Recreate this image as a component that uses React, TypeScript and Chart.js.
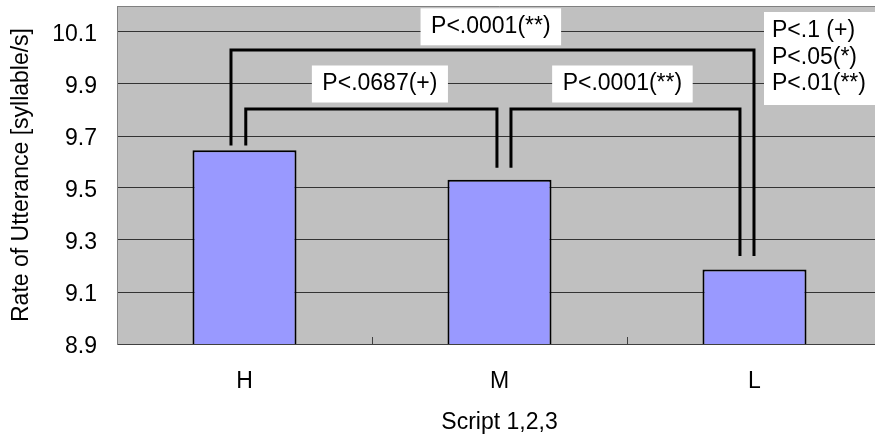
import React, { useEffect, useRef } from "react";
import { Chart, registerables } from "chart.js";

Chart.register(...registerables);

const FONT = '"Liberation Sans", Arial, sans-serif';

const categories = ["H", "M", "L"];
const rates = [9.645, 9.532, 9.187];
const yTickValues = [8.9, 9.1, 9.3, 9.5, 9.7, 9.9, 10.1];
const yMin = 8.9;
const yMax = 10.2;
const xTitle = "Script 1,2,3";
const yTitle = "Rate of Utterance [syllable/s]";

// significance brackets: x in category-index units, y in data units
const bracketLeftX = [-0.053, 0.005, 1.045];
const bracketRightX = [1.998, 0.99, 1.943];
const bracketTopY = [10.031, 9.804, 9.804];
const bracketLeftBottomY = [9.663, 9.663, 9.578];
const bracketRightBottomY = [9.238, 9.578, 9.238];

// p-value labels
const pLabels = ["P<.0001(**)", "P<.0687(+)", "P<.0001(**)"];
const pLabelX = [0.966, 0.531, 1.482];
const pLabelY = [10.12, 9.9, 9.9];

// significance key
const legendLines = ["P<.1 (+)", "P<.05(*)", "P<.01(**)"];

const plotBackground = {
  id: "plotBackground",
  beforeDraw(chart: any) {
    const { ctx, chartArea } = chart;
    ctx.save();
    ctx.fillStyle = "#C0C0C0";
    ctx.fillRect(chartArea.left, chartArea.top, chartArea.right - chartArea.left, chartArea.bottom - chartArea.top);
    ctx.restore();
  },
  afterDraw(chart: any) {
    const { ctx, chartArea } = chart;
    ctx.save();
    ctx.strokeStyle = "#808080";
    ctx.lineWidth = 1;
    ctx.beginPath();
    ctx.moveTo(chartArea.left, chartArea.top + 0.5);
    ctx.lineTo(chartArea.right, chartArea.top + 0.5);
    ctx.stroke();
    ctx.restore();
  },
};

const annotations = {
  id: "annotations",
  afterDatasetsDraw(chart: any) {
    const { ctx, chartArea } = chart;
    const x = chart.scales.x;
    const y = chart.scales.y;
    ctx.save();
    // brackets
    ctx.strokeStyle = "#000";
    ctx.lineWidth = 3;
    ctx.lineJoin = "miter";
    for (let i = 0; i < bracketLeftX.length; i++) {
      const xl = x.getPixelForValue(bracketLeftX[i]);
      const xr = x.getPixelForValue(bracketRightX[i]);
      const yt = y.getPixelForValue(bracketTopY[i]);
      const ylb = y.getPixelForValue(bracketLeftBottomY[i]);
      const yrb = y.getPixelForValue(bracketRightBottomY[i]);
      ctx.beginPath();
      ctx.moveTo(xl, ylb);
      ctx.lineTo(xl, yt);
      ctx.lineTo(xr, yt);
      ctx.lineTo(xr, yrb);
      ctx.stroke();
    }
    // p labels
    ctx.font = `23px ${FONT}`;
    ctx.textAlign = "center";
    ctx.textBaseline = "middle";
    for (let i = 0; i < pLabels.length; i++) {
      const cx = x.getPixelForValue(pLabelX[i]);
      const cy = y.getPixelForValue(pLabelY[i]);
      const w = ctx.measureText(pLabels[i]).width + 21;
      const h = 37;
      ctx.fillStyle = "#fff";
      ctx.fillRect(cx - w / 2, cy - h / 2, w, h);
      ctx.fillStyle = "#000";
      ctx.fillText(pLabels[i], cx, cy);
    }
    // key box
    const bx = chartArea.right - 118;
    const by = chartArea.top + 6;
    ctx.fillStyle = "#fff";
    ctx.fillRect(bx, by, 118, 93);
    ctx.fillStyle = "#000";
    ctx.textAlign = "left";
    for (let i = 0; i < legendLines.length; i++) {
      ctx.fillText(legendLines[i], bx + 8, by + 19 + i * 26.5);
    }
    ctx.restore();
  },
};

export default function App() {
  const canvasRef = useRef<HTMLCanvasElement | null>(null);

  useEffect(() => {
    if (!canvasRef.current) return;
    const chart = new Chart(canvasRef.current, {
      type: "bar",
      data: {
        labels: categories,
        datasets: [
          {
            data: rates,
            backgroundColor: "#9999FF",
            borderColor: "#000",
            borderWidth: 2,
            borderSkipped: false,
            barPercentage: 0.408,
            categoryPercentage: 1,
          },
        ],
      },
      options: {
        animation: false,
        responsive: false,
        devicePixelRatio: 1,
        layout: { padding: { top: 6, left: 0, right: 0, bottom: 0 } },
        plugins: { legend: { display: false }, tooltip: { enabled: false } },
        scales: {
          x: {
            offset: true,
            afterFit: (s: any) => {
              s.height = 93;
              s.paddingLeft = 0;
              s.paddingRight = 0;
              s.paddingTop = 0;
              s.paddingBottom = 0;
            },
            grid: {
              display: true,
              drawOnChartArea: false,
              drawTicks: true,
              tickLength: -7,
              color: "#404040",
              offset: true,
            },
            border: { display: true, color: "#404040", width: 1 },
            ticks: { padding: 31, color: "#000", font: { family: FONT, size: 23 } },
            title: {
              display: true,
              text: xTitle,
              color: "#000",
              font: { family: FONT, size: 23 },
              padding: { top: 0, bottom: 1 },
            },
          },
          y: {
            min: yMin,
            max: yMax,
            afterBuildTicks: (s: any) => {
              s.ticks = yTickValues.map((v) => ({ value: v }));
            },
            afterFit: (s: any) => {
              s.width = 117;
              s.paddingTop = 0;
              s.paddingBottom = 0;
              s.paddingLeft = 0;
              s.paddingRight = 0;
            },
            grid: { color: "#333", lineWidth: 1, drawTicks: false },
            border: { display: true, color: "#808080", width: 1 },
            ticks: {
              padding: 20,
              labelOffset: 3,
              color: "#000",
              font: { family: FONT, size: 23 },
              callback: (v: any) => Number(v).toFixed(1),
            },
            title: {
              display: true,
              text: yTitle,
              color: "#000",
              font: { family: FONT, size: 23 },
              padding: { top: 8, bottom: 0 },
            },
          },
        },
      },
      plugins: [plotBackground, annotations],
    });
    return () => chart.destroy();
  }, []);

  return (
    <div
      style={{
        position: "fixed",
        left: 0,
        top: 0,
        width: 875,
        height: 437,
        overflow: "hidden",
        background: "#fff",
      }}
    >
      <canvas ref={canvasRef} width={882} height={437} style={{ display: "block" }} />
    </div>
  );
}
